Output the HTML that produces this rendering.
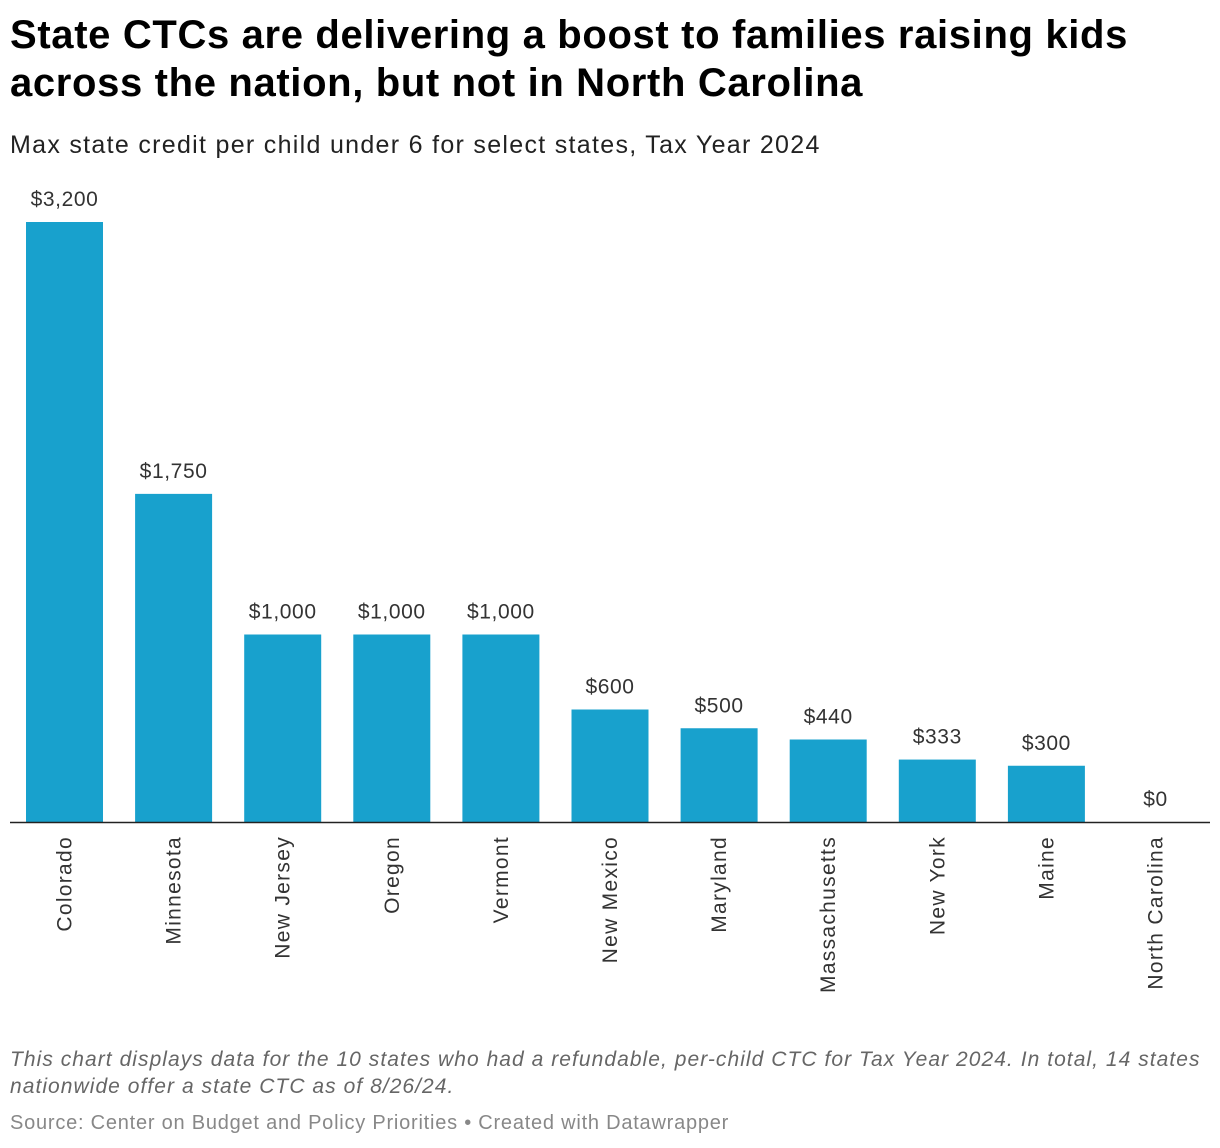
<!DOCTYPE html>
<html><head><meta charset="utf-8"><style>
body{margin:0;width:1220px;height:1148px;background:#fff;font-family:"Liberation Sans",sans-serif;position:relative;overflow:hidden}
.t{position:absolute;left:10px;top:11px;font-size:40px;font-weight:bold;line-height:48px;color:#000;letter-spacing:0.65px;white-space:nowrap}
.s{position:absolute;left:10px;top:131px;font-size:25px;color:#222;letter-spacing:1.3px;white-space:nowrap}
.n{position:absolute;left:10px;top:1046px;font-size:21px;font-style:italic;color:#666;line-height:27px;letter-spacing:1.05px;white-space:nowrap}
.src{position:absolute;left:10px;top:1112px;font-size:20px;color:#888;letter-spacing:0.77px;white-space:nowrap}
</style></head><body>
<div class="t">State CTCs are delivering a boost to families raising kids<br>across the nation, but not in North Carolina</div>
<div class="s">Max state credit per child under 6 for select states, Tax Year 2024</div>
<svg id="c" width="1220" height="1148" style="position:absolute;left:0;top:0"></svg>
<div class="n">This chart displays data for the 10 states who had a refundable, per-child CTC for Tax Year 2024. In total, 14 states<br>nationwide offer a state CTC as of 8/26/24.</div>
<div class="src">Source: Center on Budget and Policy Priorities • Created with Datawrapper</div>
<script>
const categories=["Colorado","Minnesota","New Jersey","Oregon","Vermont","New Mexico","Maryland","Massachusetts","New York","Maine","North Carolina"];
const values=[3200,1750,1000,1000,1000,600,500,440,333,300,0];
const labels=["$3,200","$1,750","$1,000","$1,000","$1,000","$600","$500","$440","$333","$300","$0"];
const svg=document.getElementById('c');const NS="http://www.w3.org/2000/svg";
const base=822,scale=600/3200,x0=26,step=109.1,bw=77;
const y=v=>base-v*scale;
function mk(t,a){const e=document.createElementNS(NS,t);for(const k in a)e.setAttribute(k,a[k]);svg.appendChild(e);return e;}
values.forEach((v,i)=>{
 const x=x0+i*step;
 const r=mk('rect',{x:x,y:y(v),width:bw,height:base-y(v),fill:'#18a1cd'});
 
 
 const t=mk('text',{x:x+bw/2,y:y(v)-16,'text-anchor':'middle','font-size':21,'letter-spacing':0.6,fill:'#333'});
 t.textContent=labels[i];
 
 
 const c=mk('text',{transform:`translate(${x+bw/2+7},836) rotate(-90)`,'text-anchor':'end','font-size':21,'letter-spacing':1.3,fill:'#333'});
 c.textContent=categories[i];
 
 
});
const ax=mk('line',{x1:10,x2:1210,y1:base+0.5,y2:base+0.5,stroke:'#222','stroke-width':1.5});


</script>
</body></html>
